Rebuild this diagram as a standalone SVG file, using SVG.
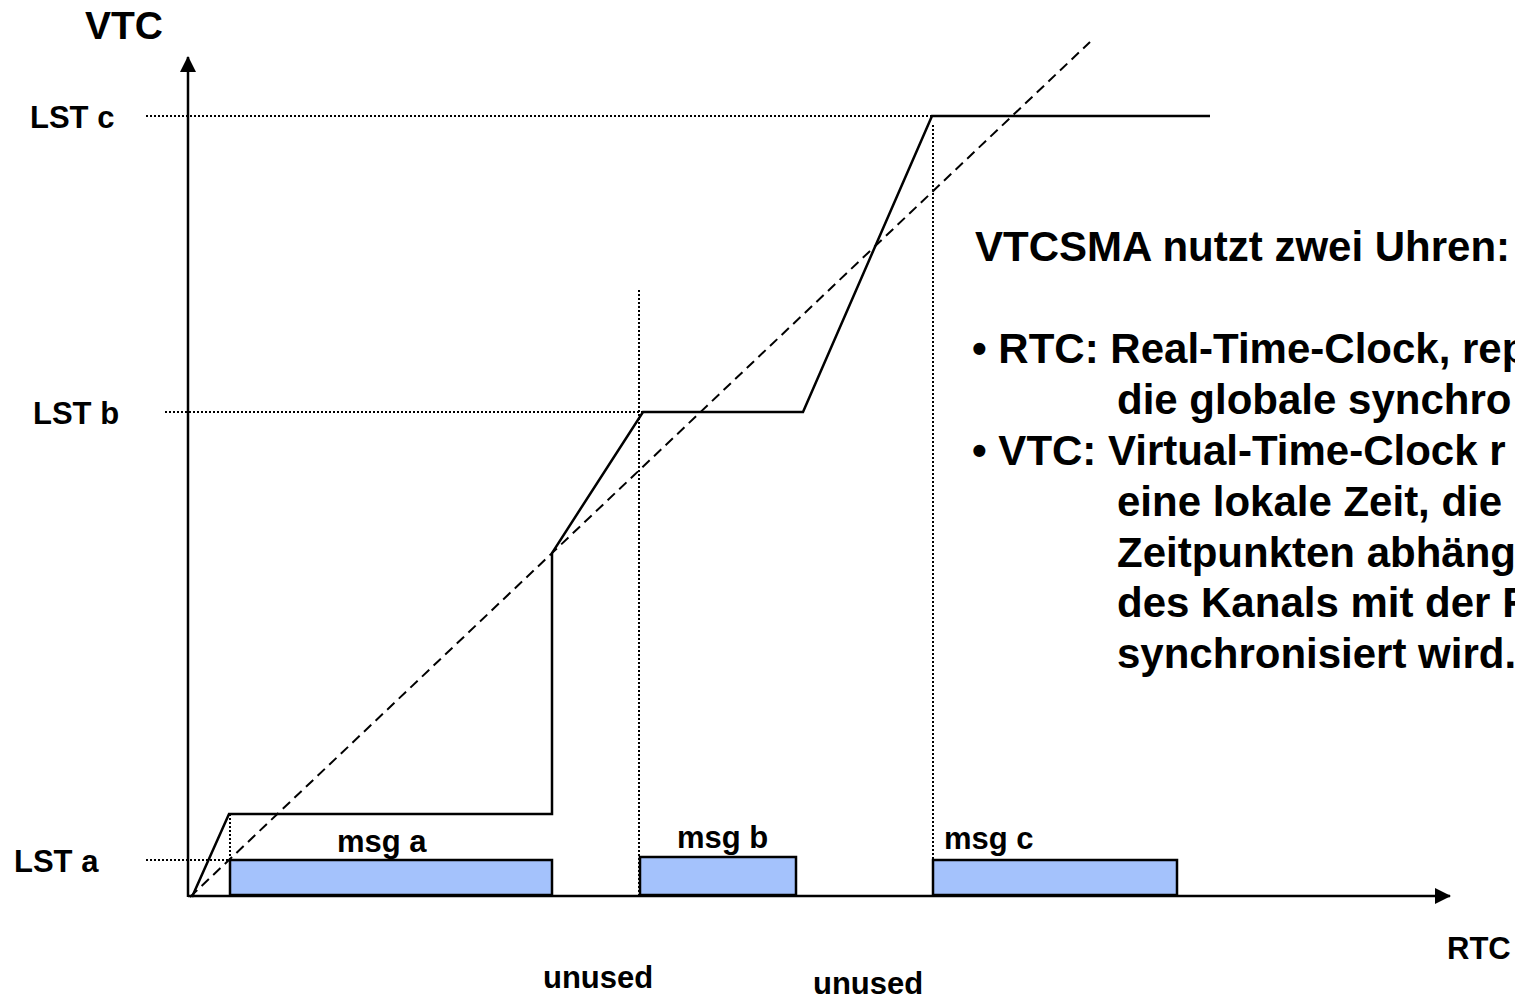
<svg xmlns="http://www.w3.org/2000/svg" width="1515" height="1000" viewBox="0 0 1515 1000">
  <defs>
    <style>
      text { font-family: "Liberation Sans", Arial, Helvetica, sans-serif; font-weight: bold; fill: #000; }
      .lbl { font-size: 31px; }
      .axis-lbl { font-size: 39px; }
      .body { font-size: 42px; }
      .axis { stroke: #000; stroke-width: 2.5; fill: none; }
      .guide { stroke: #000; stroke-width: 2; stroke-dasharray: 2 2; fill: none; }
      .ideal { stroke: #000; stroke-width: 2; stroke-dasharray: 10 6; fill: none; }
      .vtc { stroke: #000; stroke-width: 2.5; fill: none; stroke-linejoin: miter; }
      .msg { fill: #a4c2fc; stroke: #000; stroke-width: 2.5; }
    </style>
    <marker id="arrow" viewBox="0 0 16 16" refX="15" refY="8" markerWidth="16" markerHeight="16" markerUnits="userSpaceOnUse" orient="auto">
      <path d="M0,0 L16,8 L0,16 Z" fill="#000"/>
    </marker>
  </defs>

  <!-- guide lines for the latest send times and slot starts -->
  <g id="guides">
    <line class="guide" x1="146" y1="116" x2="948" y2="116"/>
    <line class="guide" x1="165" y1="412" x2="680" y2="412"/>
    <line class="guide" x1="146" y1="860" x2="300" y2="860"/>
    <line class="guide" x1="230" y1="814" x2="230" y2="896"/>
    <line class="guide" x1="639" y1="290" x2="639" y2="896"/>
    <line class="guide" x1="933" y1="125" x2="933" y2="896"/>
  </g>

  <!-- message slots -->
  <g id="msg-a">
    <rect class="msg" x="230" y="860" width="322" height="35"/>
    <text class="lbl" x="337" y="852">msg a</text>
  </g>
  <g id="msg-b">
    <rect class="msg" x="640" y="857" width="156" height="38"/>
    <text class="lbl" x="677" y="848">msg b</text>
  </g>
  <g id="msg-c">
    <rect class="msg" x="933" y="860" width="244" height="35"/>
    <text class="lbl" x="944" y="849">msg c</text>
  </g>

  <!-- axes, ideal clock and virtual clock curve -->
  <g id="connectors">
    <line class="axis" x1="188" y1="897" x2="188" y2="57" marker-end="url(#arrow)"/>
    <line class="axis" x1="188" y1="896" x2="1450" y2="896" marker-end="url(#arrow)"/>
    <line class="ideal" x1="190" y1="897" x2="1090" y2="42"/>
    <polyline class="vtc" points="192,897 229,814 552,814 552,553 643,412 803,412 932,116 1210,116"/>
  </g>

  <!-- axis and level labels -->
  <g id="labels">
    <text class="axis-lbl" x="85" y="39">VTC</text>
    <text class="axis-lbl" x="1447" y="959" style="font-size:31px">RTC</text>
    <text class="lbl" x="30" y="128">LST c</text>
    <text class="lbl" x="33" y="424">LST b</text>
    <text class="lbl" x="14" y="872">LST a</text>
    <text class="lbl" x="543" y="988">unused</text>
    <text class="lbl" x="813" y="994">unused</text>
  </g>

  <!-- explanation text -->
  <g id="description">
    <text class="body" x="975" y="261">VTCSMA nutzt zwei Uhren:</text>
    <text class="body" x="972" y="363">• RTC: Real-Time-Clock, rep</text>
    <text class="body" x="1117" y="414">die globale synchro</text>
    <text class="body" x="972" y="465">• VTC: Virtual-Time-Clock r</text>
    <text class="body" x="1117" y="516">eine lokale Zeit, die</text>
    <text class="body" x="1117" y="567">Zeitpunkten abhäng</text>
    <text class="body" x="1117" y="617">des Kanals mit der R</text>
    <text class="body" x="1117" y="668">synchronisiert wird.</text>
  </g>
</svg>
